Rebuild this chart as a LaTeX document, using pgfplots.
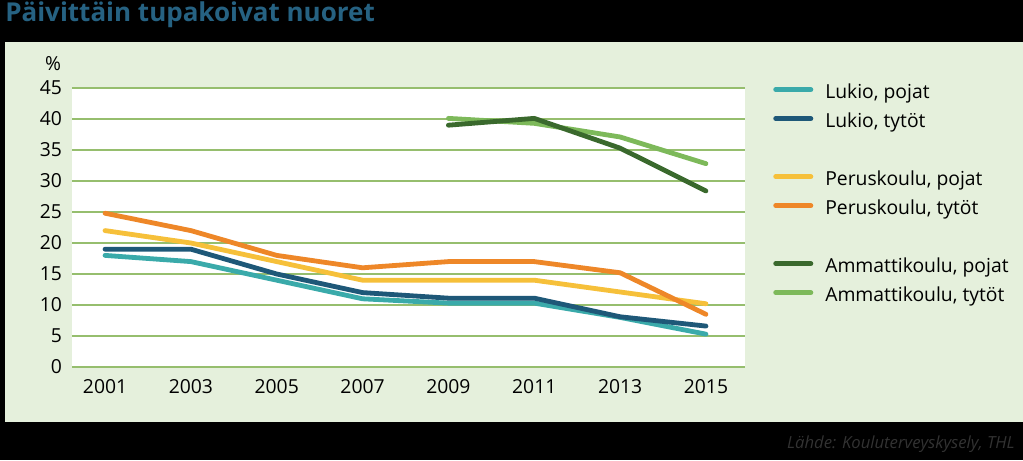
\documentclass[border=0pt]{standalone}
\usepackage{pgfplots}
\pgfplotsset{compat=1.18}
\usepackage{fontspec}
\setmainfont{Open Sans}
\definecolor{cTeal}{RGB}{58,170,170}
\definecolor{cBlue}{RGB}{30,88,120}
\definecolor{cYellow}{RGB}{246,192,58}
\definecolor{cOrange}{RGB}{238,135,40}
\definecolor{cDGreen}{RGB}{58,105,45}
\definecolor{cLGreen}{RGB}{125,185,90}
\definecolor{gridgreen}{RGB}{150,190,110}
\definecolor{panel}{RGB}{229,240,220}
\definecolor{titleblue}{RGB}{38,98,130}
\definecolor{srcgray}{RGB}{50,50,50}
\begin{document}
\begin{tikzpicture}[x=0.75pt,y=0.75pt]
\fill[black] (0,0) rectangle (1023,460);
\fill[panel] (5,38) rectangle (1023,418);
\node[anchor=base west, inner sep=0pt, font=\fontsize{19.5}{23}\selectfont\bfseries, text=titleblue] at (5,438.5) {Päivittäin tupakoivat nuoret};
\node[anchor=base east, inner sep=0pt, font=\fontsize{12.5}{15}\selectfont\itshape, text=srcgray] at (1015,12) {Lähde: Kouluterveyskysely, THL};
\begin{axis}[
  at={(54pt,69.75pt)}, anchor=south west,
  scale only axis, width=504.75pt, height=209.25pt,
  xmin=2000.23, xmax=2015.91, ymin=0, ymax=45,
  xtick={2001,2003,...,2015}, ytick={0,5,...,45},
  axis background/.style={fill=white},
  axis line style={draw=none},
  major tick length=0pt,
  ymajorgrids, grid style={color=gridgreen, line width=1.1pt},
  tick label style={font=\fontsize{14.5}{17}\selectfont, text=black},
  yticklabel style={xshift=-4pt},
  xticklabel style={yshift=-5.5pt},
  /pgf/number format/assume math mode=true,
  /pgf/number format/1000 sep={},
  every axis plot/.append style={line width=3.6pt, line cap=round, line join=round},
  legend image code/.code={\draw[line width=3.6pt, line cap=round] (1.8pt,0.3em) -- (28.2pt,0.3em);},
  legend cell align=left,
  legend style={at={(axis description cs:1,1)}, anchor=north west, xshift=21pt, yshift=3.25pt,
    draw=none, fill=none, inner sep=0pt, row sep=7.25pt,
    font=\fontsize{14.5}{17}\selectfont,
    nodes={inner sep=0pt, text height=11pt, text depth=3.5pt},
    /tikz/every odd column/.append style={column sep=9pt}},
]
% drawing order
\addplot[cTeal, forget plot] coordinates {(2001,18) (2003,17) (2005,14) (2007,11) (2009,10.3) (2011,10.3) (2013,8) (2015,5.3)};
\addplot[cBlue, forget plot] coordinates {(2001,19) (2003,19) (2005,15) (2007,12) (2009,11.1) (2011,11.1) (2013,8.1) (2015,6.6)};
\addplot[cYellow, forget plot] coordinates {(2001,22) (2003,20) (2005,17) (2007,14) (2009,14) (2011,14) (2013,12.1) (2015,10.2)};
\addplot[cOrange, forget plot] coordinates {(2001,24.8) (2003,22) (2005,18) (2007,16) (2009,17) (2011,17) (2013,15.2) (2015,8.5)};
\addplot[cLGreen, forget plot] coordinates {(2009,40.1) (2011,39.3) (2013,37.1) (2015,32.8)};
\addplot[cDGreen, forget plot] coordinates {(2009,39.0) (2011,40.1) (2013,35.3) (2015,28.4)};
% legend
\addlegendimage{cTeal}\addlegendentry{Lukio, pojat}
\addlegendimage{cBlue}\addlegendentry{Lukio, tytöt}
\addlegendimage{empty legend}\addlegendentry{}
\addlegendimage{cYellow}\addlegendentry{Peruskoulu, pojat}
\addlegendimage{cOrange}\addlegendentry{Peruskoulu, tytöt}
\addlegendimage{empty legend}\addlegendentry{}
\addlegendimage{cDGreen}\addlegendentry{Ammattikoulu, pojat}
\addlegendimage{cLGreen}\addlegendentry{Ammattikoulu, tytöt}
\end{axis}
\node[font=\fontsize{14.5}{17}\selectfont] at (53,396) {\%};
\end{tikzpicture}
\end{document}
